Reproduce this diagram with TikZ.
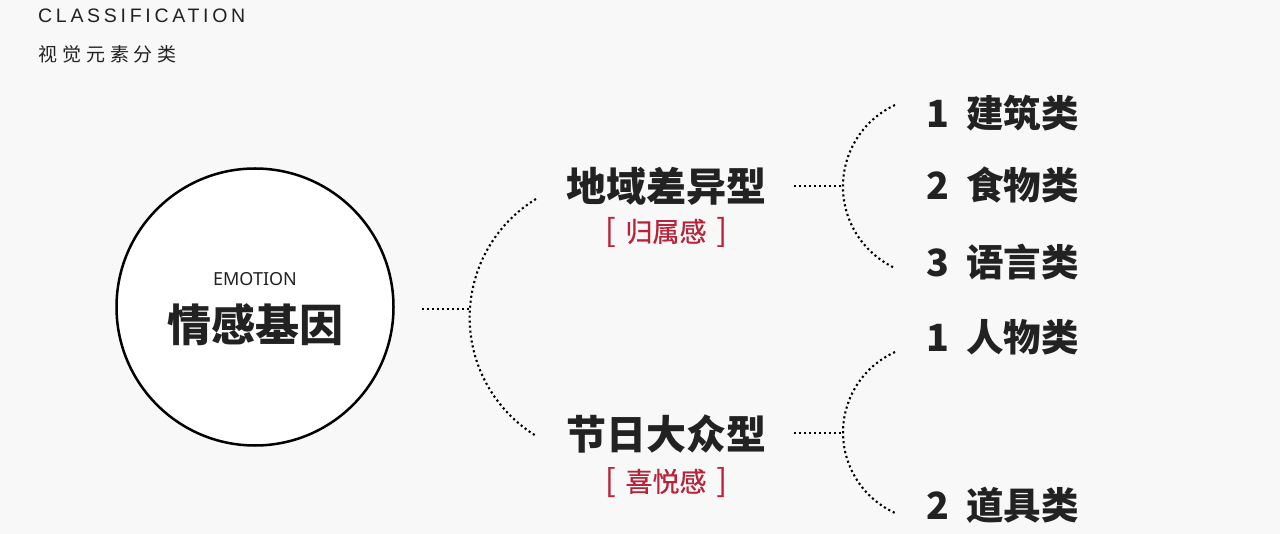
\documentclass[tikz,border=0pt]{standalone}
\usepackage{fontspec}
\setmainfont{Noto Sans CJK SC}
\newfontfamily\latinfont{Liberation Sans}[LetterSpace=19]
\newfontfamily\emofont{Noto Sans}
\newfontfamily\cjkspaced{Noto Sans CJK SC}[LetterSpace=26]
\newfontfamily\cjkmedium{Noto Sans CJK SC}[FakeBold=0.6]
\definecolor{bgc}{HTML}{F8F8F8}
\definecolor{txt}{HTML}{222222}
\definecolor{redtxt}{HTML}{B82338}
\newcommand{\bigbr}[1]{{\fontsize{31}{31}\selectfont #1}}
\begin{document}
\begin{tikzpicture}[x=1pt,y=-1pt,
  dotline/.style={line width=2.1pt, dash pattern=on 2.1pt off 2.9pt, black},
  every node/.style={inner sep=0pt, text=txt},
  midtitle/.style={font=\fontsize{40}{42}\selectfont\bfseries},
  subtitle/.style={font=\cjkmedium\fontsize{27}{28}\selectfont, text=redtxt},
  item/.style={anchor=west, font=\fontsize{37.5}{39}\selectfont\bfseries}]
\fill[bgc] (0,0) rectangle (1280,534);
\useasboundingbox (0,0) rectangle (1280,534);

\node[anchor=west, font=\latinfont\fontsize{19.5}{20}\selectfont] (cls) at (38,16) {CLASSIFICATION};
\node[anchor=west, font=\cjkspaced\fontsize{19}{20}\selectfont] (clscn) at (38,54) {视觉元素分类};

\node[circle, draw=black, line width=2.5pt, fill=white, minimum size=277pt] (core) at (255,307) {};
\node[font=\emofont\fontsize{18}{18}\selectfont] (emo) at (255,279) {EMOTION};
\node[font=\fontsize{44}{46}\selectfont\bfseries] (coretitle) at (255,325) {情感基因};

\node[midtitle] (r1) at (666,186) {地域差异型};
\node[subtitle] (r1s) at (666,232) {\bigbr{[}\hspace{10pt}归属感\hspace{10pt}\bigbr{]}};
\node[midtitle] (r2) at (666,434) {节日大众型};
\node[subtitle] (r2s) at (666,482) {\bigbr{[}\hspace{10pt}喜悦感\hspace{10pt}\bigbr{]}};

\node[item] (a1) at (919,113) {\makebox[37pt]{1}\hspace{10pt}建筑类};
\node[item] (a2) at (919,185) {\makebox[37pt]{2}\hspace{10pt}食物类};
\node[item] (a3) at (919,262) {\makebox[37pt]{3}\hspace{10pt}语言类};
\node[item] (b1) at (919,337) {\makebox[37pt]{1}\hspace{10pt}人物类};
\node[item] (b2) at (919,505) {\makebox[37pt]{2}\hspace{10pt}道具类};

% left bracket
\coordinate (j0) at (422,309);
\coordinate (k0) at (470.2,309);
\coordinate (t0) at (536,199);
\draw[dotline] (j0) -- (k0);
\draw[dotline] (t0) arc[start angle=-121.5, end angle=-238.5, radius=138.9];

% upper right bracket
\coordinate (j1) at (794,186);
\coordinate (k1) at (843,186);
\coordinate (t1) at (895,105);
\draw[dotline] (j1) -- (k1);
\draw[dotline] (t1) arc[start angle=-114.9, end angle=-245.1, radius=89.9];

% lower right bracket
\coordinate (j2) at (794,433);
\coordinate (k2) at (843,433);
\coordinate (t2) at (895,352);
\draw[dotline] (j2) -- (k2);
\draw[dotline] (t2) arc[start angle=-114.3, end angle=-245.7, radius=88.3];
\end{tikzpicture}
\end{document}
